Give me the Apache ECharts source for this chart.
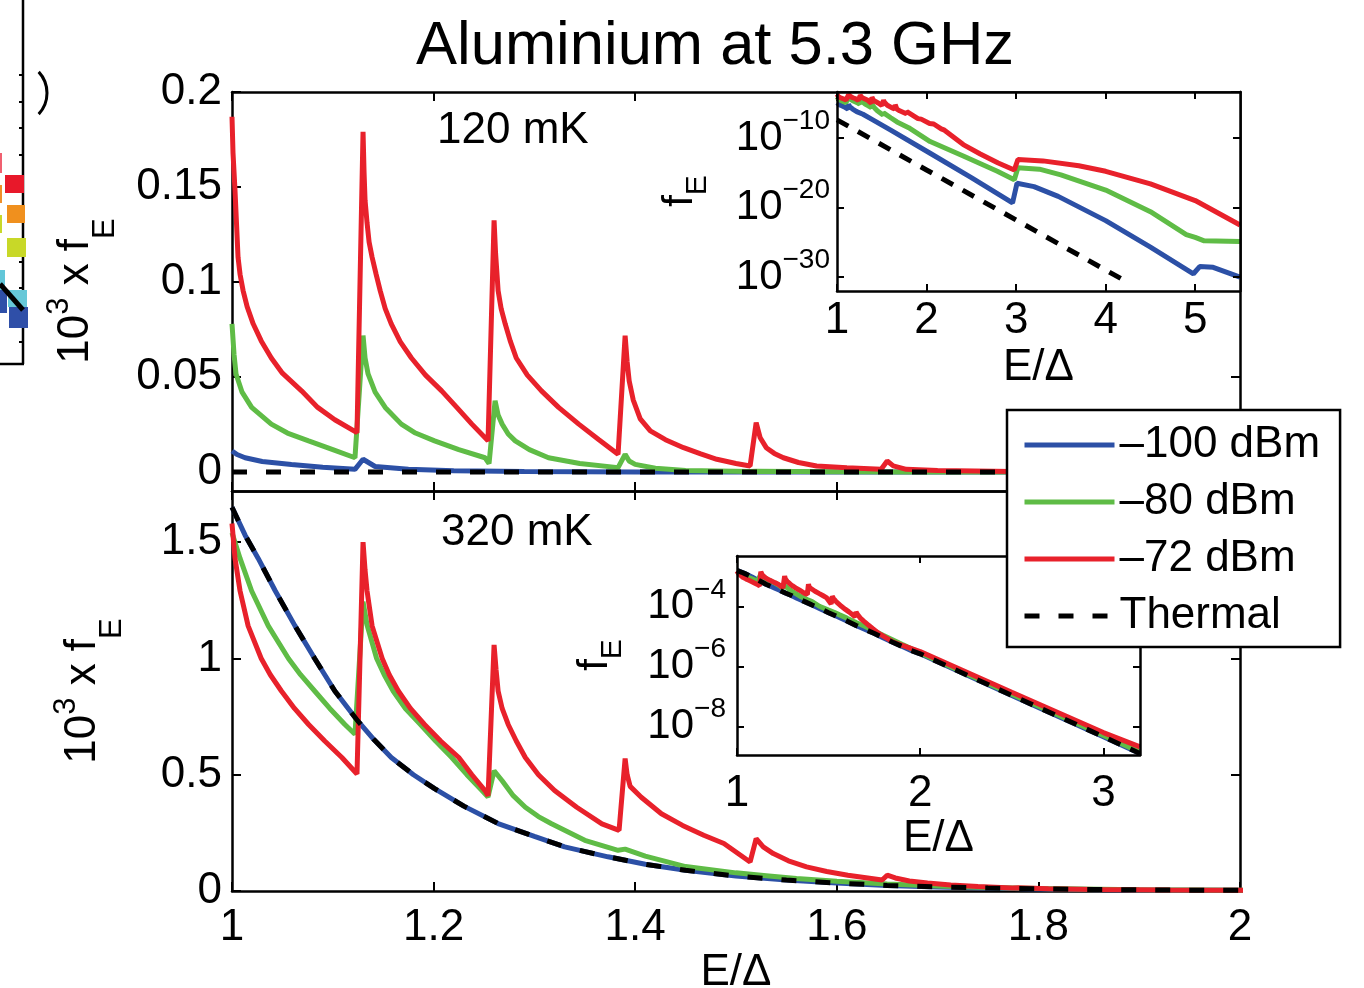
<!DOCTYPE html>
<html lang="en">
<head>
<meta charset="UTF-8" />
<title>Aluminium at 5.3 GHz</title>
<script src="https://cdn.jsdelivr.net/npm/echarts@6.0.0/dist/echarts.min.js"></script>
<style>
  html, body { margin: 0; padding: 0; background: #fff; }
  #chart { width: 1364px; height: 988px; }
</style>
</head>
<body>
<div id="chart"></div>
<script>
// all curves are in units of 10^3 x fE (insets divide by 1000 to get fE)
const names = ['–100 dBm', '–80 dBm', '–72 dBm', 'Thermal'];

// 120 mK
const blue120 = [[1.000, 0.0111], [1.005, 0.0092], [1.013, 0.0075], [1.030, 0.0055], [1.059, 0.0040], [1.090, 0.0025],
  [1.122, 0.0014], [1.130, 0.0067], [1.142, 0.0029], [1.175, 0.0014], [1.22, 6e-4], [1.29, 2.5e-4], [1.40, 4e-5],
  [1.60, 1.3e-6], [2.04, 6.3e-10], [2.50, 2e-13], [2.96, 4.5e-17],
  [3.01, 3e-14], [3.20, 1e-14], [3.47, 4e-16], [4.00, 1.3e-19], [4.50, 2e-23], [4.98, 3e-27], [5.05, 3.2e-26],
  [5.20, 2.5e-26], [5.50, 1e-27]];
const green120 = [[1.000, 0.078], [1.002, 0.062], [1.004, 0.0516], [1.010, 0.042], [1.0195, 0.034], [1.039, 0.0252],
  [1.055, 0.0205], [1.076, 0.0164], [1.100, 0.0118], [1.122, 0.0075],
  [1.130, 0.0718], [1.132, 0.060], [1.135, 0.0516], [1.142, 0.042], [1.152, 0.034], [1.168, 0.0252], [1.182, 0.0205],
  [1.201, 0.0164], [1.225, 0.0118], [1.251, 0.0075], [1.255, 0.0045],
  [1.261, 0.0375], [1.264, 0.030], [1.268, 0.0252], [1.274, 0.020], [1.281, 0.0164], [1.295, 0.0118], [1.314, 0.0075],
  [1.345, 0.0045], [1.383, 0.0023], [1.390, 0.0093], [1.394, 0.0058], [1.400, 0.0040], [1.42, 0.0020],
  [1.45, 8e-4], [1.514, 2e-4], [1.52, 4e-4], [1.60, 8e-5], [1.67, 2e-5], [1.80, 3e-6], [2.04, 3e-8], [2.41, 2.5e-10],
  [2.79, 1.6e-12], [2.98, 1e-13], [3.02, 5e-12], [3.26, 3.2e-12], [3.50, 5e-13], [4.00, 3.2e-15], [4.50, 2.5e-18],
  [4.90, 1.3e-21], [5.00, 5e-22], [5.10, 1.6e-22], [5.50, 1.3e-22]];
const red120 = [[1.000, 0.187], [1.001, 0.168], [1.003, 0.148], [1.006, 0.113], [1.008, 0.104], [1.011, 0.0955],
  [1.015, 0.087], [1.021, 0.078], [1.029, 0.069], [1.039, 0.060], [1.050, 0.052], [1.069, 0.0427], [1.085, 0.034],
  [1.102, 0.0275], [1.124, 0.0207],
  [1.130, 0.179], [1.131, 0.158], [1.132, 0.143], [1.134, 0.131], [1.136, 0.121], [1.139, 0.113], [1.143, 0.104],
  [1.147, 0.0955], [1.152, 0.086], [1.158, 0.078], [1.167, 0.0685], [1.178, 0.060], [1.192, 0.051], [1.208, 0.0427],
  [1.223, 0.034], [1.238, 0.0252], [1.254, 0.0164],
  [1.260, 0.1325], [1.2615, 0.115], [1.264, 0.0955], [1.267, 0.086], [1.271, 0.078], [1.276, 0.069], [1.282, 0.060],
  [1.293, 0.051], [1.307, 0.0427], [1.324, 0.034], [1.344, 0.0252], [1.364, 0.017], [1.383, 0.0093],
  [1.390, 0.0718], [1.392, 0.058], [1.394, 0.048], [1.398, 0.038], [1.405, 0.028], [1.415, 0.0216], [1.430, 0.017],
  [1.448, 0.0128], [1.465, 0.0095], [1.481, 0.0067], [1.500, 0.0045], [1.514, 0.0032],
  [1.520, 0.026], [1.524, 0.018], [1.530, 0.0128], [1.538, 0.0098], [1.547, 0.0075], [1.562, 0.005], [1.580, 0.0032],
  [1.610, 0.0022], [1.644, 0.0014],
  [1.650, 0.0058], [1.656, 0.0032], [1.669, 0.0014], [1.700, 8e-4], [1.774, 3e-4], [1.780, 6e-4], [1.80, 3.5e-4],
  [1.904, 6e-5], [1.910, 1e-4], [1.94, 5e-5], [2.034, 1.2e-5], [2.040, 2e-5], [2.08, 1e-5], [2.164, 2e-6],
  [2.170, 3e-6], [2.20, 1.3e-6], [2.41, 1.1e-8],
  [2.60, 5e-10], [2.80, 2.5e-11], [2.98, 2.5e-12], [3.02, 8e-11], [3.30, 5e-11], [3.70, 1e-11], [4.00, 1.6e-12],
  [4.50, 2.5e-14], [5.00, 1e-16], [5.50, 3e-20]];
const thermal120 = [[1.0, 4e-5], [2.0, 2.5e-12], [3.0, 1.6e-19], [4.0, 1e-26], [4.24, 2e-28]];

// 320 mK
const thermal320 = [[1.000, 1.65], [1.013, 1.53], [1.026, 1.43], [1.043, 1.29], [1.0625, 1.14], [1.082, 1.00],
  [1.102, 0.86], [1.125, 0.73], [1.141, 0.65], [1.158, 0.574], [1.180, 0.50], [1.201, 0.44], [1.230, 0.365],
  [1.264, 0.29], [1.300, 0.235], [1.330, 0.19], [1.373, 0.147], [1.410, 0.115], [1.45, 0.089], [1.50, 0.064],
  [1.55, 0.047], [1.60, 0.034], [1.65, 0.024], [1.70, 0.0175], [1.75, 0.0128], [1.80, 0.0091], [1.85, 0.0066],
  [1.90, 0.0048], [1.95, 0.0035], [2.00, 0.0027], [2.50, 1.1e-4], [3.00, 4.6e-6], [3.20, 1.26e-6]];
const blue320 = thermal320; // blue lies right under the thermal curve
const green320 = [[1.000, 1.54], [1.008, 1.43], [1.0195, 1.29], [1.036, 1.14], [1.056, 1.00], [1.068, 0.93],
  [1.082, 0.86], [1.097, 0.785], [1.112, 0.716], [1.122, 0.674],
  [1.130, 1.244], [1.134, 1.144], [1.1435, 1.00], [1.151, 0.93], [1.160, 0.859], [1.172, 0.785], [1.187, 0.716],
  [1.202, 0.645], [1.218, 0.574], [1.233, 0.50], [1.248, 0.432], [1.254, 0.404],
  [1.260, 0.517], [1.268, 0.474], [1.279, 0.41], [1.291, 0.36], [1.304, 0.32], [1.317, 0.289], [1.350, 0.218],
  [1.383, 0.175], [1.390, 0.180], [1.41, 0.150], [1.45, 0.105], [1.50, 0.078], [1.53, 0.066], [1.56, 0.054],
  [1.60, 0.042], [1.65, 0.030], [1.70, 0.022], [1.75, 0.0155], [1.80, 0.011], [1.90, 0.0056], [2.00, 0.0029],
  [2.50, 1.2e-4], [3.00, 5e-6], [3.20, 1.4e-6]];
const red320 = [[1.000, 1.58], [1.003, 1.43], [1.008, 1.29], [1.016, 1.14], [1.029, 1.00], [1.038, 0.93],
  [1.049, 0.86], [1.062, 0.785], [1.076, 0.716], [1.092, 0.645], [1.109, 0.574], [1.124, 0.503],
  [1.130, 1.50], [1.132, 1.38], [1.134, 1.29], [1.139, 1.14], [1.144, 1.07], [1.149, 1.00], [1.156, 0.93],
  [1.165, 0.86], [1.177, 0.785], [1.191, 0.716], [1.207, 0.645], [1.225, 0.574], [1.238, 0.50], [1.251, 0.432],
  [1.254, 0.41],
  [1.260, 1.058], [1.262, 0.95], [1.264, 0.86], [1.268, 0.785], [1.274, 0.716], [1.282, 0.645], [1.291, 0.574],
  [1.304, 0.50], [1.320, 0.432], [1.342, 0.36], [1.367, 0.289], [1.384, 0.261],
  [1.390, 0.570], [1.392, 0.50], [1.395, 0.45], [1.406, 0.403], [1.426, 0.332], [1.447, 0.282], [1.468, 0.24],
  [1.488, 0.204], [1.514, 0.125],
  [1.520, 0.225], [1.527, 0.19], [1.537, 0.161], [1.552, 0.13], [1.570, 0.104], [1.590, 0.084], [1.611, 0.068],
  [1.645, 0.047],
  [1.650, 0.068], [1.658, 0.056], [1.672, 0.043], [1.690, 0.034], [1.713, 0.026], [1.740, 0.019], [1.774, 0.013],
  [1.780, 0.0135], [1.810, 0.0095], [1.856, 0.0065], [1.930, 0.0045], [2.00, 0.0032],
  [2.50, 1.4e-4], [3.00, 6.3e-6], [3.20, 2.1e-6]];

// tick values
const xTicksMain = [1, 1.2, 1.4, 1.6, 1.8, 2];
const yTicks120 = [0, 0.05, 0.1, 0.15, 0.2];
const yTicks320 = [0, 0.5, 1, 1.5];
const xTicksIn120 = [1, 2, 3, 4, 5];
const yTicksIn120 = [1e-30, 1e-20, 1e-10];
const xTicksIn320 = [1, 2, 3];
const yTicksIn320 = [1e-8, 1e-6, 1e-4];

const FONT = "'Liberation Sans', Arial, Helvetica, sans-serif";
const BLUE = '#2c50a6', GREEN = '#5fbc46', RED = '#e8212b';
const colors = [BLUE, GREEN, RED, '#000'];

function axis(type, gridIndex, position, ticks, showLabels, tickLen, z) {
  return {
    type: type, gridIndex: gridIndex, position: position, z: z || 0,
    axisLine: { show: true, onZero: false, lineStyle: { color: '#000', width: 2.5 } },
    axisTick: { show: true, inside: true, length: tickLen, customValues: ticks, lineStyle: { color: '#000', width: 2 } },
    axisLabel: { show: showLabels, customValues: ticks, color: '#000', fontSize: 44, fontFamily: FONT,
      showMinLabel: true, showMaxLabel: true, hideOverlap: false },
    splitLine: { show: false },
    axisPointer: { show: false }
  };
}

// "10" with a raised exponent; the exponent gets a tiny box so the
// label stays centred on the "10"
const supRich = {
  b: { fontSize: 42, lineHeight: 42, verticalAlign: 'middle', fontFamily: FONT, color: '#000' },
  s: { fontSize: 28, height: 8, lineHeight: 8, verticalAlign: 'top', fontFamily: FONT, color: '#000' }
};
function powLabel(v) {
  return '{b|10}{s|\u2212' + Math.round(-Math.log10(v)) + '}';
}

const xAxes = [];
const yAxes = [];
let a;
// grid 0: 120 mK main
a = axis('value', 0, 'bottom', xTicksMain, false, 9); a.min = 1; a.max = 2; xAxes.push(a);
a = axis('value', 0, 'top', xTicksMain, false, 9); a.min = 1; a.max = 2; xAxes.push(a);
a = axis('value', 0, 'left', yTicks120, true, 9); a.min = -0.01; a.max = 0.2; a.axisLabel.margin = 10; yAxes.push(a);
a = axis('value', 0, 'right', yTicks120, false, 9); a.min = -0.01; a.max = 0.2; yAxes.push(a);
// grid 1: 320 mK main
a = axis('value', 1, 'bottom', xTicksMain, true, 9); a.min = 1; a.max = 2; a.axisLabel.margin = 15;
a.name = 'E/Δ'; a.nameLocation = 'middle'; a.nameGap = 58;
a.nameTextStyle = { fontSize: 44, color: '#000', fontFamily: FONT }; xAxes.push(a);
a = axis('value', 1, 'top', xTicksMain, false, 9); a.min = 1; a.max = 2; xAxes.push(a);
a = axis('value', 1, 'left', yTicks320, true, 9); a.min = 0; a.max = 1.72; a.axisLabel.margin = 10; yAxes.push(a);
a = axis('value', 1, 'right', yTicks320, false, 9); a.min = 0; a.max = 1.72; yAxes.push(a);
// grid 2: 120 mK inset (fE, log)
a = axis('value', 2, 'bottom', xTicksIn120, true, 7, 7); a.min = 1; a.max = 5.5; a.axisLabel.margin = 8;
a.name = 'E/Δ'; a.nameLocation = 'middle'; a.nameGap = 55;
a.nameTextStyle = { fontSize: 44, color: '#000', fontFamily: FONT }; xAxes.push(a);
a = axis('value', 2, 'top', xTicksIn120, false, 7, 7); a.min = 1; a.max = 5.5; xAxes.push(a);
a = axis('log', 2, 'left', yTicksIn120, true, 7, 7); a.logBase = 10; a.min = 1e-32; a.max = Math.pow(10, -3.4);
a.axisLabel.margin = 7; a.axisLabel.formatter = powLabel; a.axisLabel.rich = supRich; yAxes.push(a);
a = axis('log', 2, 'right', yTicksIn120, false, 7, 7); a.logBase = 10; a.min = 1e-32; a.max = Math.pow(10, -3.4); yAxes.push(a);
// grid 3: 320 mK inset
a = axis('value', 3, 'bottom', xTicksIn320, true, 7, 7); a.min = 1; a.max = 3.2; a.axisLabel.margin = 17;
a.name = 'E/Δ'; a.nameLocation = 'middle'; a.nameGap = 61;
a.nameTextStyle = { fontSize: 44, color: '#000', fontFamily: FONT }; xAxes.push(a);
a = axis('value', 3, 'top', xTicksIn320, false, 7, 7); a.min = 1; a.max = 3.2; xAxes.push(a);
a = axis('log', 3, 'left', yTicksIn320, true, 7, 7); a.logBase = 10; a.min = Math.pow(10, -8.95); a.max = Math.pow(10, -2.3);
a.axisLabel.margin = 11; a.axisLabel.formatter = powLabel; a.axisLabel.rich = supRich; yAxes.push(a);
a = axis('log', 3, 'right', yTicksIn320, false, 7, 7); a.logBase = 10; a.min = Math.pow(10, -8.95); a.max = Math.pow(10, -2.3); yAxes.push(a);

const series = [];
function addPanel(curves, xi, yi, toFE, z) {
  curves.forEach(function (pts, i) {
    const dashed = i === 3;
    series.push({
      name: names[i], type: 'line', xAxisIndex: xi, yAxisIndex: yi, z: z,
      data: toFE ? pts.map(function (p) { return [p[0], p[1] / 1000]; }) : pts,
      symbol: 'none', showSymbol: false, clip: true, silent: true,
      lineStyle: { color: colors[i], width: 5, type: dashed ? (toFE ? [13, 11] : [15, 19]) : 'solid' },
      itemStyle: { color: colors[i] }
    });
  });
}
addPanel([blue120, green120, red120, thermal120], 0, 0, false, 2);
addPanel([blue320, green320, red320, thermal320], 2, 2, false, 2);
addPanel([blue120, green120, red120, thermal120], 4, 4, true, 6);
addPanel([blue320, green320, red320, thermal320], 6, 6, true, 6);

function text(x, y, str, size) {
  return { type: 'text', x: x, y: y, z: 8,
    style: { text: str, fontSize: size, fontFamily: FONT, fill: '#000', textVerticalAlign: 'middle' } };
}
function rotName(x, y, str, rich) {
  return { type: 'text', x: x, y: y, rotation: Math.PI / 2, z: 8,
    style: { text: str, rich: rich, fill: '#000', textAlign: 'center', textVerticalAlign: 'middle' } };
}
const mainNameRich = {
  b: { fontSize: 44, lineHeight: 44, verticalAlign: 'top', padding: [10, 0, 0, 0], fontFamily: FONT, color: '#000' },
  s: { fontSize: 31, lineHeight: 31, verticalAlign: 'top', fontFamily: FONT, color: '#000' },
  u: { fontSize: 31, lineHeight: 31, verticalAlign: 'top', padding: [46, 0, 0, 0], fontFamily: FONT, color: '#000' }
};
const insetNameRich = {
  f: { fontSize: 42, lineHeight: 42, verticalAlign: 'top', fontFamily: FONT, color: '#000' },
  u: { fontSize: 30, lineHeight: 30, verticalAlign: 'top', padding: [24, 0, 0, 0], fontFamily: FONT, color: '#000' }
};

const graphics = [
  { type: 'rect', shape: { x: 837, y: 92, width: 403, height: 199 }, style: { fill: '#fff' }, z: 4 },
  { type: 'rect', shape: { x: 737, y: 556, width: 403, height: 199 }, style: { fill: '#fff' }, z: 4 },
  text(437, 131, '120 mK', 44),
  text(441, 533, '320 mK', 44),
  rotName(66, 291, '{b|10}{s|3}{b| x f}{u|E}', mainNameRich),
  rotName(73, 691, '{b|10}{s|3}{b| x f}{u|E}', mainNameRich),
  rotName(680, 191, '{f|f}{u|E}', insetNameRich),
  rotName(595, 655, '{f|f}{u|E}', insetNameRich)
];

// cropped piece of the neighbouring figure on the left edge
const deco = [
  { type: 'line', shape: { x1: 23, y1: 0, x2: 23, y2: 364 }, style: { stroke: '#000', lineWidth: 2.5 } },
  { type: 'line', shape: { x1: 0, y1: 364, x2: 24, y2: 364 }, style: { stroke: '#000', lineWidth: 2.5 } },
  { type: 'arc', shape: { cx: 16, cy: 93, r: 31, startAngle: -0.75, endAngle: 0.75 }, style: { stroke: '#000', fill: null, lineWidth: 3 } },
  { type: 'rect', shape: { x: 0, y: 153, width: 2, height: 20 }, style: { fill: '#f06070' } },
  { type: 'rect', shape: { x: 0, y: 185, width: 2, height: 18 }, style: { fill: '#f0902a' } },
  { type: 'rect', shape: { x: 0, y: 215, width: 2, height: 18 }, style: { fill: '#c8d82a' } },
  { type: 'rect', shape: { x: 0, y: 270, width: 5, height: 20 }, style: { fill: '#62c6d8' } },
  { type: 'rect', shape: { x: 0, y: 290, width: 7, height: 23 }, style: { fill: '#2f4fa8' } },
  { type: 'rect', shape: { x: 5, y: 175, width: 19, height: 18 }, style: { fill: '#e8182a' } },
  { type: 'rect', shape: { x: 7, y: 205, width: 18, height: 18 }, style: { fill: '#f0901e' } },
  { type: 'rect', shape: { x: 7, y: 238, width: 19, height: 19 }, style: { fill: '#c8d828' } },
  { type: 'rect', shape: { x: 8, y: 290, width: 19, height: 17 }, style: { fill: '#66c8d8' } },
  { type: 'rect', shape: { x: 9, y: 307, width: 19, height: 21 }, style: { fill: '#2f4fa8' } },
  { type: 'line', shape: { x1: 0, y1: 284, x2: 23, y2: 310 }, style: { stroke: '#000', lineWidth: 5 } }
];
[75, 102, 128, 155, 262, 288, 342].forEach(function (y) {
  deco.push({ type: 'line', shape: { x1: 19, y1: y, x2: 23, y2: y }, style: { stroke: '#000', lineWidth: 2 } });
});

const chart = echarts.init(document.getElementById('chart'));
chart.setOption({
  animation: false,
  backgroundColor: '#fff',
  textStyle: { fontFamily: FONT },
  title: { text: 'Aluminium at 5.3 GHz', left: 411, top: 11,
    textStyle: { fontSize: 61.5, fontWeight: 'normal', color: '#000', fontFamily: FONT } },
  legend: {
    show: true, orient: 'vertical', left: 1007, top: 410, z: 10,
    data: names, selectedMode: false,
    itemWidth: 90, itemHeight: 20, itemGap: 13, padding: [13, 20, 9, 15],
    backgroundColor: '#fff', borderColor: '#000', borderWidth: 2.5, borderRadius: 0,
    textStyle: { fontSize: 44, color: '#000', fontFamily: FONT },
    itemStyle: { opacity: 0 },
    lineStyle: { width: 5 }
  },
  grid: [
    { left: 232, top: 92, width: 1008, height: 399, outerBoundsMode: 'none' },
    { left: 232, top: 491, width: 1008, height: 400, outerBoundsMode: 'none' },
    { left: 837, top: 92, width: 403, height: 199, outerBoundsMode: 'none' },
    { left: 737, top: 556, width: 403, height: 199, outerBoundsMode: 'none' }
  ],
  xAxis: xAxes,
  yAxis: yAxes,
  series: series,
  graphic: graphics.concat(deco)
});
</script>
</body>
</html>
